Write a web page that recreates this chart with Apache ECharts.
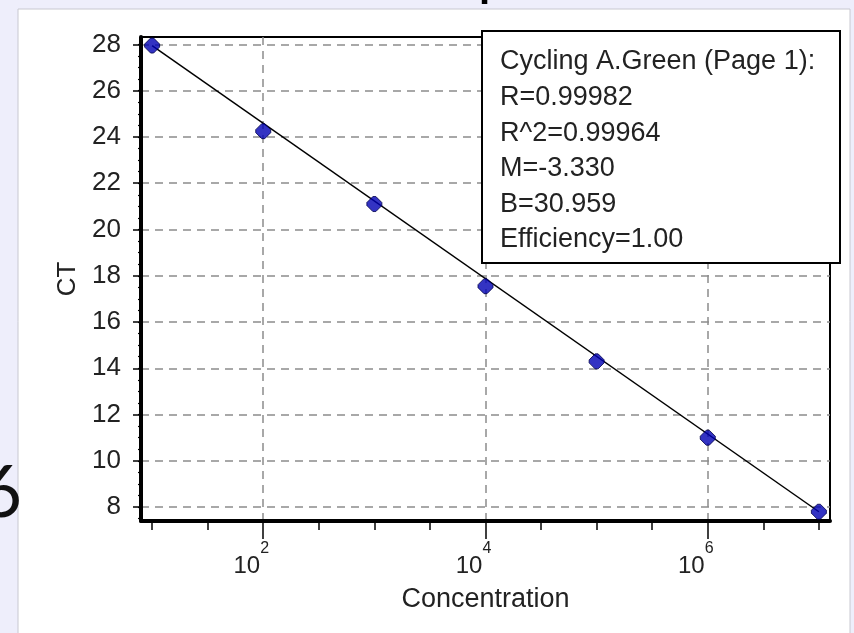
<!DOCTYPE html>
<html>
<head>
<meta charset="utf-8">
<script src="https://cdn.jsdelivr.net/npm/echarts@6/dist/echarts.min.js"></script>
<style>
html,body{margin:0;padding:0;background:#eeeefb;}
#c{width:854px;height:633px;}
</style>
</head>
<body>
<div id="c"></div>
<script>
// ---- data ----
const concentrations = [1e1, 1e2, 1e3, 1e4, 1e5, 1e6, 1e7];
const ctValues = [27.95, 24.25, 21.1, 17.55, 14.3, 11.0, 7.8];
const fitLineConc = [1e1, 1e7];
const fitLineCt = [27.95, 7.8];
// x axis works on exponents of 10
const xTickExps = [1, 1.5, 2, 2.5, 3, 3.5, 4, 4.5, 5, 5.5, 6, 6.5, 7];
const xMajorExps = [2, 4, 6];
const yTicks = [8, 10, 12, 14, 16, 18, 20, 22, 24, 26, 28];
const yMinorTicks = [7.5, 8, 8.5, 9, 9.5, 10, 10.5, 11, 11.5, 12, 12.5, 13, 13.5, 14, 14.5, 15, 15.5, 16, 16.5, 17, 17.5, 18, 18.5, 19, 19.5, 20, 20.5, 21, 21.5, 22, 22.5, 23, 23.5, 24, 24.5, 25, 25.5, 26, 26.5, 27, 27.5, 28];
const legendLines = ['Cycling A.Green (Page 1):', 'R=0.99982', 'R^2=0.99964', 'M=-3.330', 'B=30.959', 'Efficiency=1.00'];

const FONT = 'Liberation Sans, Arial, sans-serif';
const TXT = '#222';

const chart = echarts.init(document.getElementById('c'), null, {renderer: 'canvas'});

const gridLine = {show: true, lineStyle: {color: '#8c8c8c', width: 1.5, type: [8, 6]}};

const legendChildren = [{
  type: 'rect', z: 100,
  shape: {x: 482, y: 31, width: 358, height: 232},
  style: {fill: '#fff', stroke: '#000', lineWidth: 2}
}];
legendLines.forEach((t, i) => {
  legendChildren.push({
    type: 'text', z: 101,
    x: 500, y: 62 + i * 35.6,
    style: {text: t, fill: TXT, font: '27px ' + FONT, verticalAlign: 'middle', align: 'left'}
  });
});

const option = {
  backgroundColor: '#eeeefb',
  animation: false,
  graphic: [
    {type: 'rect', z: -10, shape: {x: 18, y: 9, width: 832, height: 630}, style: {fill: '#fff', stroke: '#c8c8d0', lineWidth: 1}},
    {type: 'text', z: 50, x: 22, y: 530, style: {text: '6', fill: '#111', font: '72px Lato, DejaVu Sans, sans-serif', align: 'right', verticalAlign: 'bottom'}},
    {type: 'text', z: 50, x: 479, y: 5, style: {text: 'p', fill: '#000', font: 'bold 40px ' + FONT, align: 'left', verticalAlign: 'bottom'}},
    {type: 'group', children: legendChildren}
  ],
  grid: {left: 141, right: 24, top: 37, bottom: 112, show: true, borderColor: '#000', borderWidth: 2, backgroundColor: '#fff'},
  xAxis: [
    {
      type: 'value', min: 0.9, max: 7.1, position: 'bottom',
      axisLine: {show: true, onZero: false, lineStyle: {color: '#000', width: 4}},
      axisTick: {show: true, customValues: xTickExps, length: 9, lineStyle: {color: '#000', width: 1.5}},
      axisLabel: {show: false},
      splitLine: {show: false},
      name: 'Concentration', nameLocation: 'middle', nameGap: 65,
      nameTextStyle: {fontSize: 27, fontFamily: FONT, color: TXT}
    },
    {
      type: 'value', min: 0.9, max: 7.1, position: 'bottom',
      axisLine: {show: false},
      axisTick: {show: true, customValues: xMajorExps, length: 18, lineStyle: {color: '#000', width: 1.5}},
      axisLabel: {
        show: true, customValues: xMajorExps, margin: 20,
        formatter: v => '{b|10}{s|' + Math.round(v) + '}{e| }',
        rich: {
          b: {fontSize: 24, fontFamily: FONT, color: TXT},
          s: {fontSize: 16, fontFamily: FONT, color: TXT, padding: [0, 0, 34, 0]},
          e: {fontSize: 16, width: 24}
        }
      },
      splitLine: gridLine
    }
  ],
  yAxis: [
    {
      type: 'value', min: 7.4, max: 28.32, position: 'left',
      axisLine: {show: true, onZero: false, lineStyle: {color: '#000', width: 4}},
      axisTick: {show: true, customValues: yTicks, length: 8, lineStyle: {color: '#000', width: 1.5}},
      axisLabel: {customValues: yTicks, margin: 20, fontSize: 26, fontFamily: FONT, color: TXT},
      splitLine: gridLine,
      name: 'CT', nameLocation: 'middle', nameGap: 60, nameRotate: 90,
      nameTextStyle: {fontSize: 26, fontFamily: FONT, color: TXT}
    },
    {
      type: 'value', min: 7.4, max: 28.32, position: 'left',
      axisLine: {show: false},
      axisTick: {show: true, customValues: yMinorTicks, length: 3, lineStyle: {color: '#000', width: 1.2}},
      axisLabel: {show: false},
      splitLine: {show: false}
    }
  ],
  series: [
    {
      type: 'line', xAxisIndex: 0, yAxisIndex: 0, z: 3,
      data: fitLineConc.map((c, i) => [Math.log10(c), fitLineCt[i]]),
      symbol: 'none', lineStyle: {color: '#000', width: 1.5}
    },
    {
      type: 'scatter', xAxisIndex: 0, yAxisIndex: 0, z: 4,
      data: concentrations.map((c, i) => [Math.log10(c), ctValues[i]]),
      symbol: 'path://M4,0 L6,0 L10,4 L10,6 L6,10 L4,10 L0,6 L0,4 Z', symbolSize: 15,
      itemStyle: {color: '#0000b4', borderColor: '#000048', borderWidth: 1}
    }
  ]
};
chart.setOption(option);
</script>
</body>
</html>
